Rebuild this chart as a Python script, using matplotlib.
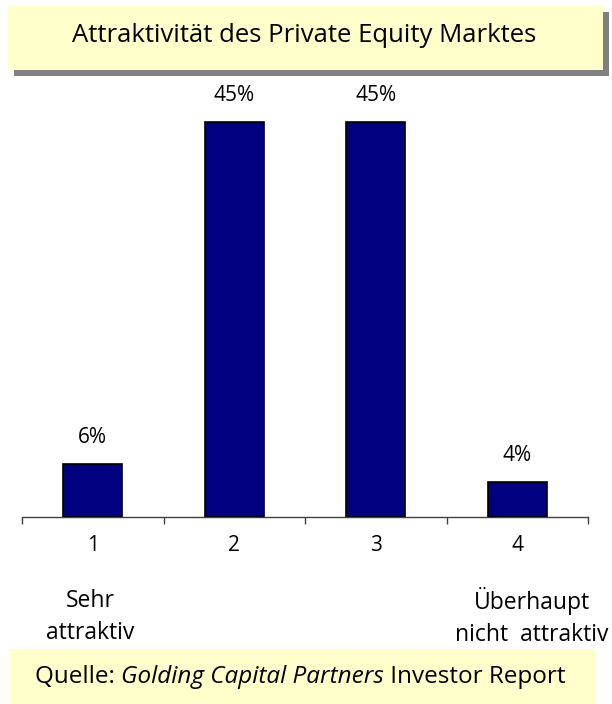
import matplotlib
matplotlib.use("Agg")
import matplotlib.pyplot as plt
from matplotlib.patches import Rectangle

# Survey data
categories = ["1", "2", "3", "4"]
values = [6, 45, 45, 4]
value_labels = ["6%", "45%", "45%", "4%"]
title = "Attraktivität des Private Equity Marktes"
left_caption = "Sehr\nattraktiv"
right_caption = "Überhaupt\nnicht  attraktiv"
source_parts = ["Quelle: ", "Golding Capital Partners", " Investor Report"]

W, H = 612, 704
FONT = ["Open Sans", "DejaVu Sans"]
plt.rcParams["font.family"] = FONT

fig = plt.figure(figsize=(W / 100, H / 100), dpi=100)
fig.patch.set_facecolor("white")


def fx(px):
    return px / W


def fy(py):
    return 1 - py / H


# Title box with drop shadow
fig.patches.append(Rectangle((fx(14), fy(76)), fx(603) - fx(8), fy(6) - fy(70),
                             transform=fig.transFigure, facecolor="#808080",
                             edgecolor="none", zorder=0))
fig.patches.append(Rectangle((fx(8), fy(70)), fx(603) - fx(8), fy(6) - fy(70),
                             transform=fig.transFigure, facecolor="#FFFFCC",
                             edgecolor="none", zorder=1))
fig.text(fx(304), fy(36), title, ha="center", va="center", fontsize=18.5,
         color="black")

# Bar chart
ax = fig.add_axes([fx(22), fy(517), fx(588) - fx(22), fy(80) - fy(517)])
x = list(range(len(categories)))
ax.bar(x, values, width=0.415, color="#000080", edgecolor="black", linewidth=1.2,
       zorder=3)
ax.set_xlim(-0.5, len(categories) - 0.5)
ax.set_ylim(0, 49.78)
for xi, v, lab in zip(x, values, value_labels):
    ax.annotate(lab, (xi, v), xytext=(0, 19), textcoords="offset points",
                ha="center", va="center", fontsize=15)

for side in ["left", "right", "top"]:
    ax.spines[side].set_visible(False)
ax.spines["bottom"].set_color("#404040")
ax.spines["bottom"].set_linewidth(1)
ax.set_yticks([])
ax.set_xticks(x)
ax.set_xticklabels(categories, fontsize=15)
ax.tick_params(axis="x", which="major", length=0, pad=13)
ax.set_xticks([i - 0.5 for i in range(len(categories) + 1)], minor=True)
ax.tick_params(axis="x", which="minor", length=5, width=1, color="#404040",
               direction="out")
ax.patch.set_alpha(0)

# Scale end captions
fig.text(fx(90), fy(617), left_caption, ha="center", va="center", fontsize=16.5,
         linespacing=1.45, multialignment="center")
fig.text(fx(532), fy(617), right_caption, ha="center", va="center",
         fontsize=16.5, linespacing=1.45, multialignment="center")

# Source box
fig.patches.append(Rectangle((fx(10), fy(710)), fx(595) - fx(10), fy(649) - fy(710),
                             transform=fig.transFigure, facecolor="#FFFFCC",
                             edgecolor="none", zorder=0))

fig.canvas.draw()
renderer = fig.canvas.get_renderer()
xpos = 35
styles = ["normal", "italic", "normal"]
for part, st in zip(source_parts, styles):
    t = fig.text(fx(xpos), fy(677), part, ha="left", va="center", fontsize=17.5,
                 style=st)
    bb = t.get_window_extent(renderer=renderer)
    xpos += bb.width

fig.savefig("out.png", dpi=100, facecolor="white")
